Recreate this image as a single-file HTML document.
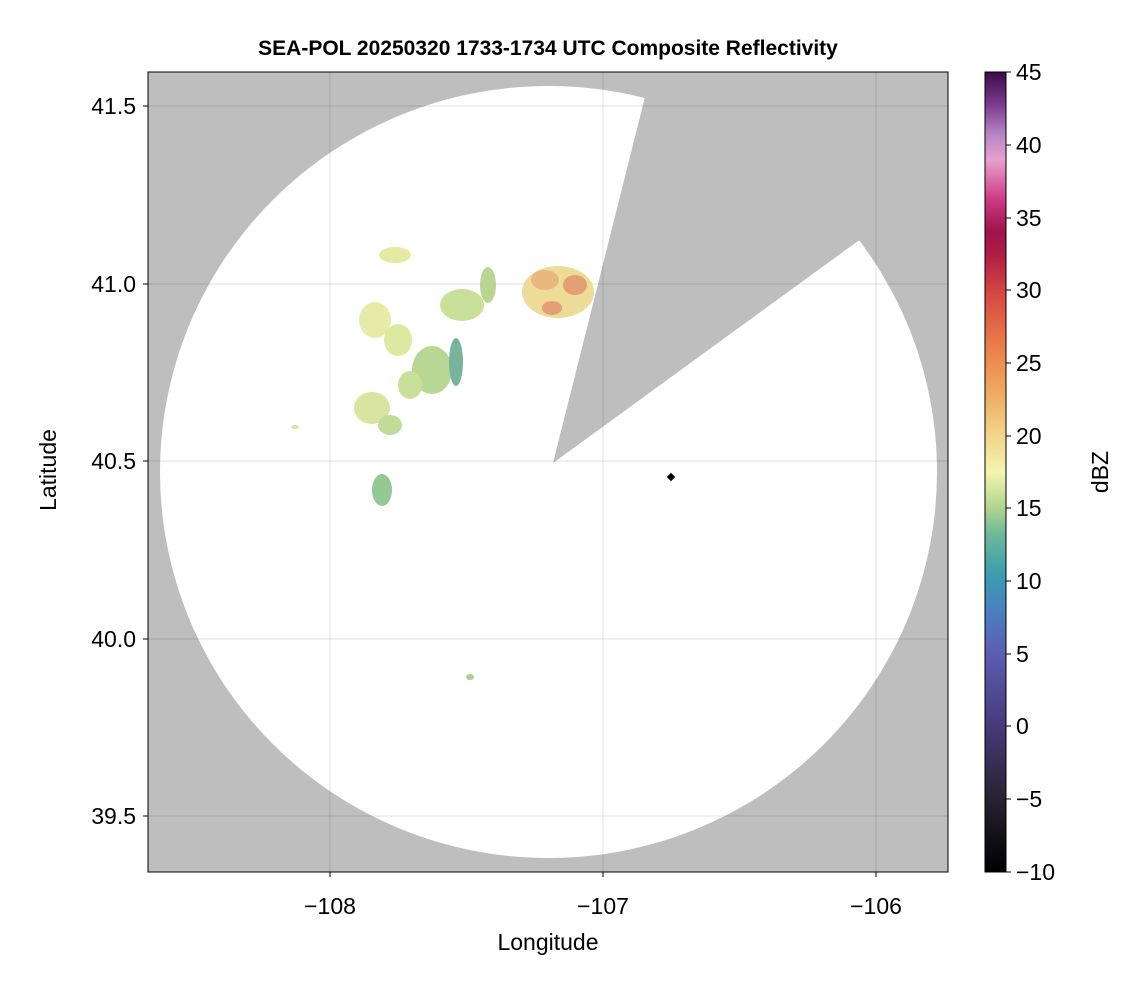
<!DOCTYPE html>
<html><head><meta charset="utf-8"><style>
html,body{margin:0;padding:0;background:#fff;}
svg text{font-family:"Liberation Sans",sans-serif;}
</style></head><body>
<svg width="1146" height="990" viewBox="0 0 1146 990" xmlns="http://www.w3.org/2000/svg">
<defs>
<clipPath id="pc"><rect x="148" y="72" width="800" height="800"/></clipPath>
<linearGradient id="cb" x1="0" y1="1" x2="0" y2="0">
<stop offset="0" stop-color="#000000"/>
<stop offset="0.09" stop-color="#262230"/>
<stop offset="0.18" stop-color="#463a78"/>
<stop offset="0.27" stop-color="#5c5cb0"/>
<stop offset="0.33" stop-color="#4a82c0"/>
<stop offset="0.37" stop-color="#3a9cb0"/>
<stop offset="0.42" stop-color="#6ab898"/>
<stop offset="0.46" stop-color="#b8d890"/>
<stop offset="0.50" stop-color="#f4f4b0"/>
<stop offset="0.545" stop-color="#f2d58a"/>
<stop offset="0.60" stop-color="#eeaa60"/>
<stop offset="0.66" stop-color="#ea7c48"/>
<stop offset="0.72" stop-color="#d84a44"/>
<stop offset="0.77" stop-color="#b01e44"/>
<stop offset="0.80" stop-color="#a0124a"/>
<stop offset="0.84" stop-color="#cc3a84"/>
<stop offset="0.89" stop-color="#e8a0cc"/>
<stop offset="0.92" stop-color="#b888c8"/>
<stop offset="0.96" stop-color="#7a3c8e"/>
<stop offset="1" stop-color="#3a0a48"/>
</linearGradient>
</defs>
<g clip-path="url(#pc)">
<rect x="148" y="72" width="800" height="800" fill="#bebebe"/>
<ellipse cx="548.5" cy="472" rx="388.5" ry="386" fill="#fff"/>
<polygon points="553,463 645,97 700,-120 1100,-120 1100,150 858,241" fill="#bebebe"/>
<g stroke="#000" stroke-opacity="0.12" stroke-width="1">
<line x1="330" y1="72" x2="330" y2="872"/><line x1="603" y1="72" x2="603" y2="872"/><line x1="876" y1="72" x2="876" y2="872"/>
<line x1="148" y1="106" x2="948" y2="106"/><line x1="148" y1="284" x2="948" y2="284"/><line x1="148" y1="461" x2="948" y2="461"/><line x1="148" y1="639" x2="948" y2="639"/><line x1="148" y1="816" x2="948" y2="816"/>
</g>
<g>
<ellipse cx="558" cy="292" rx="36" ry="26" fill="#ecdc98"/>
<ellipse cx="545" cy="280" rx="14" ry="10" fill="#e8b880"/>
<ellipse cx="575" cy="285" rx="12" ry="10" fill="#e4a074"/>
<ellipse cx="552" cy="308" rx="10" ry="7" fill="#e4a074"/>
<ellipse cx="395" cy="255" rx="16" ry="8" fill="#e4eaa0"/>
<ellipse cx="375" cy="320" rx="16" ry="18" fill="#e6eca8"/>
<ellipse cx="398" cy="340" rx="14" ry="16" fill="#dde8a0"/>
<ellipse cx="462" cy="305" rx="22" ry="16" fill="#c8e09a"/>
<ellipse cx="432" cy="370" rx="20" ry="24" fill="#b8d694"/>
<ellipse cx="410" cy="385" rx="12" ry="14" fill="#c8e09a"/>
<ellipse cx="372" cy="408" rx="18" ry="16" fill="#d8e4a0"/>
<ellipse cx="390" cy="425" rx="12" ry="10" fill="#c0dc98"/>
<ellipse cx="488" cy="285" rx="8" ry="18" fill="#b8d690"/>
<ellipse cx="382" cy="490" rx="10" ry="16" fill="#94c894"/>
<ellipse cx="456" cy="362" rx="7" ry="24" fill="#78b49c"/>
<ellipse cx="295" cy="427" rx="4" ry="2" fill="#d8e4a0"/>
<ellipse cx="470" cy="677" rx="4" ry="3" fill="#a8d090"/>
</g>
<rect x="668" y="474" width="6" height="6" transform="rotate(45 671 477)" fill="#000"/>
</g>
<rect x="148" y="72" width="800" height="800" fill="none" stroke="#000" stroke-width="1"/>
<g stroke="#000"><line x1="330" y1="872" x2="330" y2="877"/><line x1="603" y1="872" x2="603" y2="877"/><line x1="876" y1="872" x2="876" y2="877"/>
<line x1="143" y1="106" x2="148" y2="106"/><line x1="143" y1="284" x2="148" y2="284"/><line x1="143" y1="461" x2="148" y2="461"/><line x1="143" y1="639" x2="148" y2="639"/><line x1="143" y1="816" x2="148" y2="816"/></g>
<g font-size="23" fill="#000">
<text x="330" y="914" text-anchor="middle">−108</text>
<text x="603" y="914" text-anchor="middle">−107</text>
<text x="876" y="914" text-anchor="middle">−106</text>
<text x="136" y="114" text-anchor="end">41.5</text>
<text x="136" y="292" text-anchor="end">41.0</text>
<text x="136" y="469" text-anchor="end">40.5</text>
<text x="136" y="647" text-anchor="end">40.0</text>
<text x="136" y="824" text-anchor="end">39.5</text>
<text x="548" y="950" text-anchor="middle">Longitude</text>
<text transform="translate(56,470) rotate(-90)" text-anchor="middle">Latitude</text>
<text x="548" y="55" text-anchor="middle" font-weight="bold" font-size="21">SEA-POL 20250320 1733-1734 UTC Composite Reflectivity</text>
</g>
<rect x="985" y="72" width="21" height="800" fill="url(#cb)"/>
<rect x="985" y="72" width="21" height="800" fill="none" stroke="#000" stroke-width="1"/>
<g stroke="#000">
<line x1="1006" y1="72" x2="1011" y2="72"/><line x1="1006" y1="145" x2="1011" y2="145"/><line x1="1006" y1="218" x2="1011" y2="218"/><line x1="1006" y1="290" x2="1011" y2="290"/><line x1="1006" y1="363" x2="1011" y2="363"/><line x1="1006" y1="436" x2="1011" y2="436"/><line x1="1006" y1="508" x2="1011" y2="508"/><line x1="1006" y1="581" x2="1011" y2="581"/><line x1="1006" y1="654" x2="1011" y2="654"/><line x1="1006" y1="726" x2="1011" y2="726"/><line x1="1006" y1="799" x2="1011" y2="799"/><line x1="1006" y1="872" x2="1011" y2="872"/>
</g>
<g font-size="23" fill="#000">
<text x="1016" y="80">45</text><text x="1016" y="153">40</text><text x="1016" y="226">35</text><text x="1016" y="298">30</text><text x="1016" y="371">25</text><text x="1016" y="444">20</text><text x="1016" y="516">15</text><text x="1016" y="589">10</text><text x="1016" y="662">5</text><text x="1016" y="734">0</text><text x="1016" y="807">−5</text><text x="1016" y="880">−10</text>
<text transform="translate(1108,472) rotate(-90)" text-anchor="middle">dBZ</text>
</g>
</svg>
</body></html>
